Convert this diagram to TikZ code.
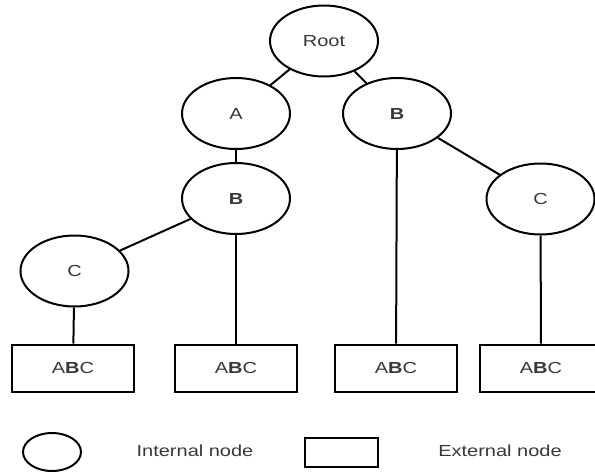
\documentclass[tikz,border=0pt]{standalone}
\usepackage{fontspec}
\usetikzlibrary{shapes.geometric}
\newfontfamily\lblfont[FakeStretch=1.25]{Liberation Sans}
\begin{document}
\begin{tikzpicture}[x=1pt,y=-1pt,
  edge/.style={line width=2pt},
  inode/.style={draw,ellipse,line width=2pt,inner sep=0pt,
    minimum width=108pt,minimum height=71pt,
    font=\lblfont\fontsize{16}{19}\selectfont,text=black!78},
  xnode/.style={draw,rectangle,line width=2pt,inner sep=0pt,
    minimum width=122pt,minimum height=47pt,
    font=\lblfont\fontsize{16}{19}\selectfont,text=black!78},
  legendtext/.style={font=\lblfont\fontsize{16}{19}\selectfont,text=black!78}]
\useasboundingbox (0,0) rectangle (595,474);
\fill[white] (0,0) rectangle (595,474);

% internal nodes
\node[inode] (root) at (324,41) {Root};
\node[inode] (a) at (236,113.5) {A};
\node[inode] (b1) at (397,113.5) {\textbf{B}};
\node[inode] (b2) at (236,198.5) {\textbf{B}};
\node[inode] (c1) at (74.5,271) {C};
\node[inode] (c2) at (540.5,199) {C};

% external nodes
\node[xnode] (x1) at (73,368) {A\textbf{B}C};
\node[xnode] (x2) at (236,368) {A\textbf{B}C};
\node[xnode] (x3) at (396,368) {A\textbf{B}C};
\node[xnode] (x4) at (541,368) {A\textbf{B}C};

% tree edges
\draw[edge] (root) -- (a);
\draw[edge] (root) -- (b1);
\draw[edge] (a) -- (b2);
\draw[edge] (b2) -- (c1);
\draw[edge] (b2) -- (x2);
\draw[edge] (c1) -- (x1);
\draw[edge] (b1) -- (x3);
\draw[edge] (b1) -- (c2);
\draw[edge] (c2) -- (x4);

% legend
\node[draw,ellipse,line width=2pt,minimum width=58pt,minimum height=38pt,inner sep=0pt] (li) at (52,452) {};
\node[legendtext] (lit) at (195,451) {Internal node};
\node[draw,rectangle,line width=2pt,minimum width=73pt,minimum height=29pt,inner sep=0pt] (le) at (341.5,452) {};
\node[legendtext] (let) at (500,451) {External node};
\end{tikzpicture}
\end{document}
